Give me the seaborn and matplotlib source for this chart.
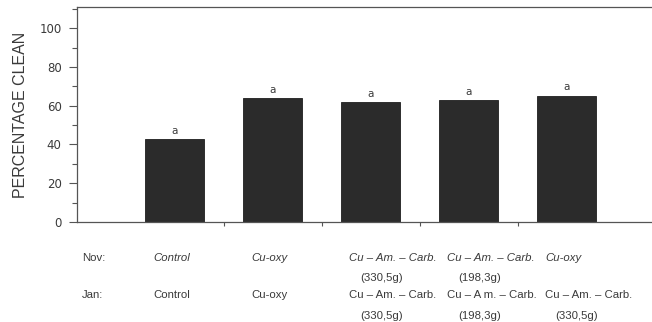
import matplotlib
matplotlib.use("Agg")
import matplotlib.pyplot as plt
import matplotlib.transforms as mtransforms
import seaborn as sns
import pandas as pd
from matplotlib.ticker import MultipleLocator, FixedLocator

# ---- data ----
treatments = ["T1", "T2", "T3", "T4", "T5"]
percent_clean = [42.8, 63.8, 61.9, 62.9, 65.3]
significance = ["a", "a", "a", "a", "a"]
nov_labels = ["Control", "Cu-oxy", "Cu \u2013 Am. \u2013 Carb.", "Cu \u2013 Am. \u2013 Carb.", "Cu-oxy"]
nov_sub = ["", "", "(330,5g)", "(198,3g)", ""]
jan_labels = ["Control", "Cu-oxy", "Cu \u2013 Am. \u2013 Carb.", "Cu \u2013 A m. \u2013 Carb.", "Cu \u2013 Am. \u2013 Carb."]
jan_sub = ["", "", "(330,5g)", "(198,3g)", "(330,5g)"]
row_titles = ["Nov:", "Jan:"]
y_ticks = [0, 20, 40, 60, 80, 100]

df = pd.DataFrame({"treatment": treatments, "clean": percent_clean})

sns.set_style("ticks")
plt.rcParams["font.family"] = ["Liberation Sans", "DejaVu Sans"]

fig = plt.figure(figsize=(6.52, 3.22), dpi=100)
ax = fig.add_axes([0.118, 0.311, 0.880, 0.667])

text_col = "#3a3a3a"
axis_col = "#555555"

sns.barplot(data=df, x="treatment", y="clean", ax=ax, color="#2b2b2b",
            width=0.6, edgecolor="#1e1e1e", linewidth=0.6, saturation=1)

for i, (v, s) in enumerate(zip(percent_clean, significance)):
    ax.annotate(s, (i, v), xytext=(0, 2.5), textcoords="offset points",
                ha="center", va="bottom", fontsize=7.5, color=text_col,
                family="DejaVu Sans")

ax.set_xlim(-1.0, 4.86)
ax.set_ylim(0, 111)
ax.yaxis.set_major_locator(FixedLocator(y_ticks))
ax.yaxis.set_minor_locator(MultipleLocator(10))
ax.set_yticklabels([str(t) for t in y_ticks], fontsize=8.5, color=text_col,
                   family="DejaVu Sans")
ax.tick_params(axis="y", which="major", direction="out", length=6, width=0.8,
               color=axis_col, pad=5)
ax.tick_params(axis="y", which="minor", direction="out", length=3.5, width=0.8,
               color=axis_col)
ax.set_xticks([])
ax.xaxis.set_minor_locator(FixedLocator([0.5, 1.5, 2.5, 3.5]))
ax.tick_params(axis="x", which="minor", direction="out", length=3, width=0.8,
               color=axis_col)
ax.set_xlabel("")
ax.set_ylabel("PERCENTAGE CLEAN", fontsize=11.5, color=text_col, labelpad=8)

for side in ["left", "bottom", "top"]:
    ax.spines[side].set_color(axis_col)
    ax.spines[side].set_linewidth(0.9)
ax.spines["right"].set_visible(False)
ax.spines["top"].set_visible(True)

# category labels below the axis
trans = mtransforms.blended_transform_factory(ax.transData, fig.transFigure)
rows = [
    (nov_labels, nov_sub, "italic", 0.199, 0.137),
    (jan_labels, jan_sub, "normal", 0.084, 0.019),
]
for (mains, subs, style, y_main, y_sub) in rows:
    for i, (m, s) in enumerate(zip(mains, subs)):
        ax.text(i - 0.22, y_main, m, transform=trans, ha="left", va="center",
                fontsize=8.2, style=style, color=text_col, clip_on=False)
        if s:
            ax.text(i - 0.11, y_sub, s, transform=trans, ha="left", va="center",
                    fontsize=8.2, color=text_col, clip_on=False)

fig.text(0.126, 0.199, row_titles[0], ha="left", va="center", fontsize=8.2, color=text_col)
fig.text(0.126, 0.084, row_titles[1], ha="left", va="center", fontsize=8.2, color=text_col)

fig.savefig("out.png", dpi=100)
